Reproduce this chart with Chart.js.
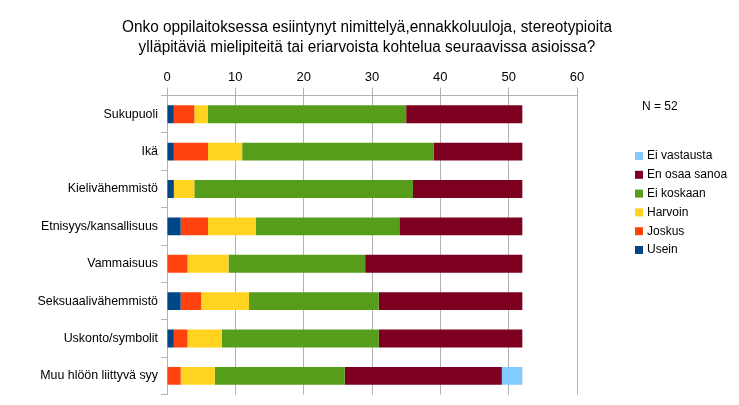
<!DOCTYPE html>
<html><head><meta charset="utf-8">
<script src="https://cdn.jsdelivr.net/npm/chart.js@4"></script>
<style>html,body{margin:0;padding:0;background:#fff}#wrap{width:739px;height:405px;position:relative}</style>
</head><body><div id="wrap"><canvas id="c"></canvas></div>
<script>
const categories = ["Sukupuoli","Ikä","Kielivähemmistö","Etnisyys/kansallisuus","Vammaisuus","Seksuaalivähemmistö","Uskonto/symbolit","Muu hlöön liittyvä syy"];
const usein       = [1,1,1,2,0,2,1,0];
const joskus      = [3,5,0,4,3,3,2,2];
const harvoin     = [2,5,3,7,6,7,5,5];
const eiKoskaan   = [29,28,32,21,20,19,23,19];
const enOsaa      = [17,13,16,18,23,21,21,23];
const eiVastausta = [0,0,0,0,0,0,0,3];
const xTicks = [0,10,20,30,40,50,60];
const seriesNames = ["Usein","Joskus","Harvoin","Ei koskaan","En osaa sanoa","Ei vastausta"];
const seriesColors = ["#004586","#ff420e","#ffd320","#579d1c","#7e0021","#83caff"];
const titleLines = ["Onko oppilaitoksessa esiintynyt nimittelyä,ennakkoluuloja, stereotypioita","ylläpitäviä mielipiteitä tai eriarvoista kohtelua seuraavissa asioissa?"];
const noteText = "N = 52";

const seriesData = [usein,joskus,harvoin,eiKoskaan,enOsaa,eiVastausta];
const FONT = "'Liberation Sans', Arial, sans-serif";

const extras = {
  id:'extras',
  afterDraw(chart){
    const ctx = chart.ctx;
    ctx.save();
    // title
    ctx.font = "16px " + FONT;
    ctx.fillStyle = "#000";
    ctx.textBaseline = "middle";
    ctx.textAlign = "center";
    const sx = 0.96;
    titleLines.forEach((t,i)=>{
      ctx.save();
      ctx.translate(367, 28 + i*20);
      ctx.scale(sx,1);
      ctx.fillText(t, 0, 0);
      ctx.restore();
    });
    // note + legend
    ctx.font = "12px " + FONT;
    ctx.textAlign = "left";
    ctx.fillText(noteText, 642, 107);
    const n = seriesNames.length;
    for (let k=0;k<n;k++){
      const i = n-1-k;
      const y = 156 + k*18.8;
      ctx.fillStyle = seriesColors[i];
      ctx.fillRect(635, y-4, 8, 8);
      ctx.fillStyle = "#000";
      ctx.fillText(seriesNames[i], 647, y);
    }
    ctx.restore();
  }
};

new Chart(document.getElementById('c'), {
  type:'bar',
  data:{
    labels: categories,
    datasets: seriesNames.map((name,i)=>({
      label:name, data:seriesData[i], backgroundColor:seriesColors[i],
      borderWidth:0, barPercentage:0.48, categoryPercentage:1.0
    }))
  },
  options:{
    indexAxis:'y', responsive:true, maintainAspectRatio:false, animation:false,
    devicePixelRatio:1,
    layout:{padding:{left:0,right:162,top:68,bottom:9}},
    plugins:{
      legend:{display:false}, tooltip:{enabled:false}, title:{display:false}
    },
    scales:{
      x:{
        position:'top', stacked:true, min:0, max:60,
        afterBuildTicks(axis){ axis.ticks = xTicks.map(v=>({value:v})); },
        ticks:{color:'#000', font:{family:FONT,size:13}, padding:2},
        grid:{color:'#b3b3b3', tickLength:8, lineWidth:1},
        border:{color:'#b3b3b3'}
      },
      y:{
        stacked:true,
        afterFit(axis){ axis.width = 167; },
        ticks:{color:'#000', font:{family:FONT,size:12.4}, padding:3},
        grid:{offset:true, drawOnChartArea:false, color:'#b3b3b3', tickLength:6},
        border:{color:'#b3b3b3'}
      }
    }
  },
  plugins:[extras]
});
</script></body></html>
